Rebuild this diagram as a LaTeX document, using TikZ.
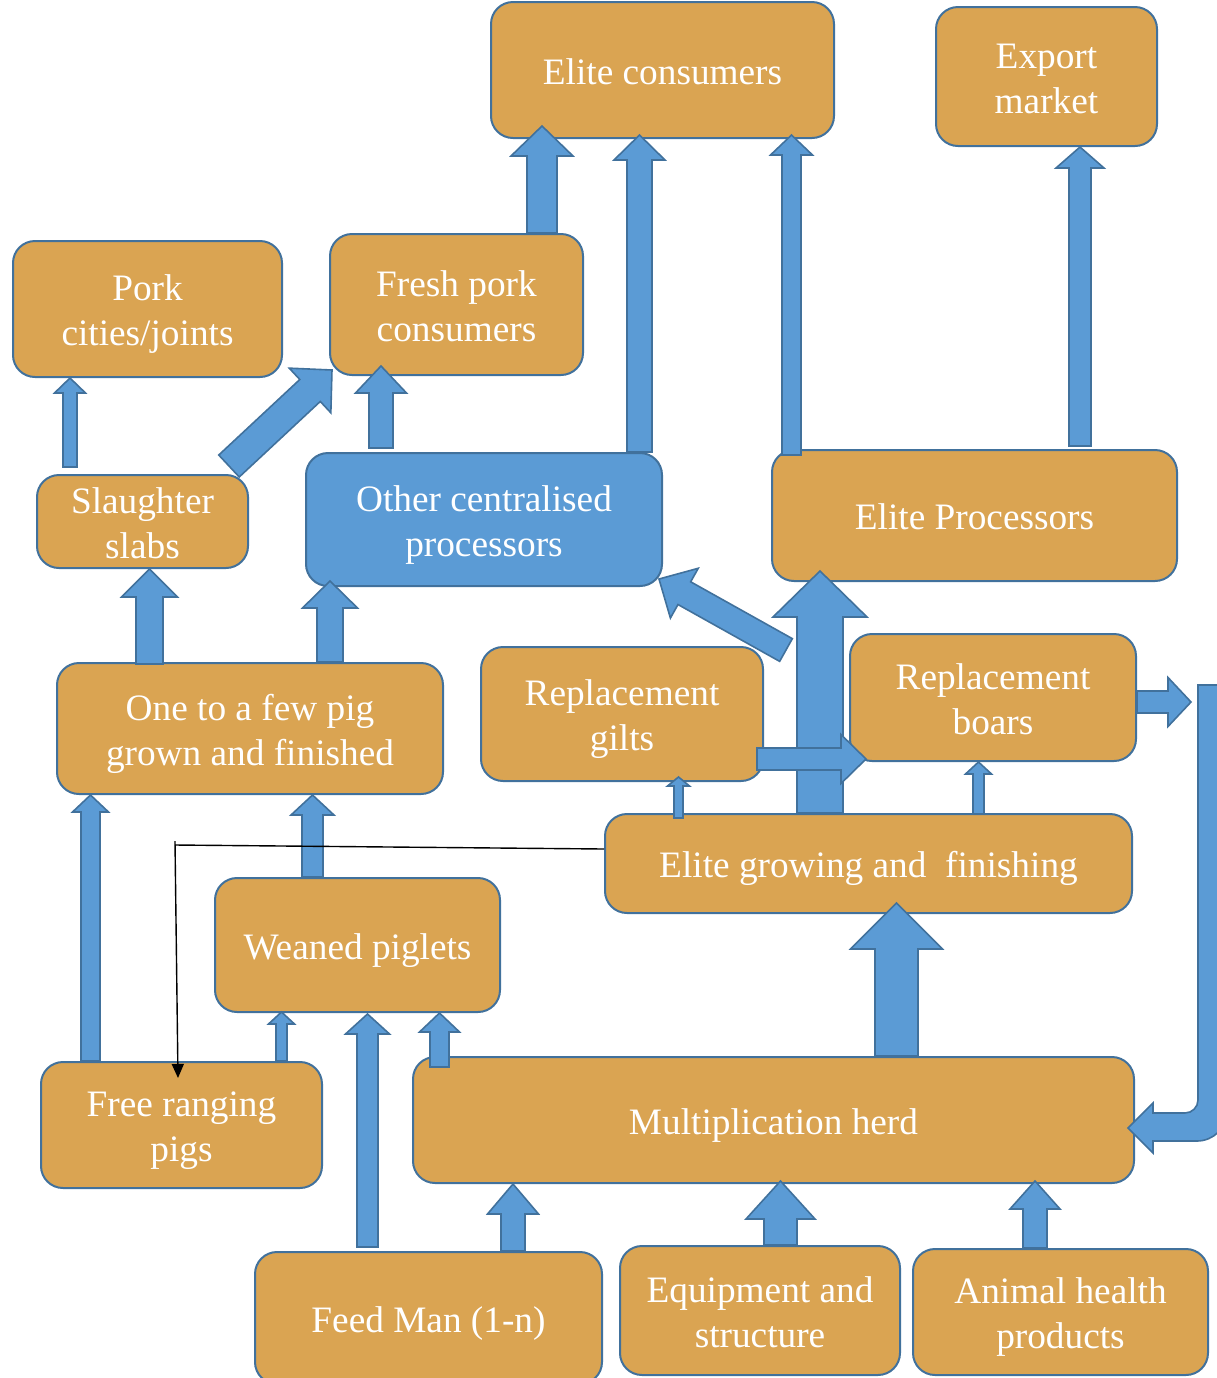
\documentclass[tikz,border=0pt]{standalone}
\usepackage{fontspec}
\setmainfont{Liberation Serif}
\usetikzlibrary{calc,arrows.meta}
\definecolor{boxfill}{RGB}{218,164,82}
\definecolor{edgeblue}{RGB}{65,113,156}
\definecolor{arrblue}{RGB}{91,155,213}
\newcommand{\tstrut}{\rule{0pt}{18.5pt}}
\tikzset{
  box/.style={draw=edgeblue, line width=1pt, fill=boxfill, rounded corners=11pt,
    inner sep=0pt, align=center, text=white,
    font=\fontsize{18.65pt}{22.5pt}\selectfont,
    execute at begin node={\rule{0pt}{18.5pt}},
    execute at end node={\rule[-4.2pt]{0pt}{0pt}}},
  bluebox/.style={box, fill=arrblue},
  barrowstyle/.style={draw=edgeblue, fill=arrblue, line width=0.8pt, line join=miter},
  link/.style={draw=black, line width=0.7pt}
}
% block arrow: #1 base, #2 tip, #3 shaft width, #4 head width, #5 head length (px)
\newcommand{\barrow}[5]{%
  \path[barrowstyle] let \p1=(#1), \p2=(#2),
    \n1={veclen(\x2-\x1,\y2-\y1)},
    \n2={(\x2-\x1)/\n1}, \n3={(\y2-\y1)/\n1},
    \n4={#3*0.25}, \n5={#4*0.25}, \n6={#5*0.5}
  in ({\x1-(\n3)*\n4*1pt},{\y1+(\n2)*\n4*1pt})
  -- ({\x2-(\n2)*\n6*1pt-(\n3)*\n4*1pt},{\y2-(\n3)*\n6*1pt+(\n2)*\n4*1pt})
  -- ({\x2-(\n2)*\n6*1pt-(\n3)*\n5*1pt},{\y2-(\n3)*\n6*1pt+(\n2)*\n5*1pt})
  -- (\p2)
  -- ({\x2-(\n2)*\n6*1pt+(\n3)*\n5*1pt},{\y2-(\n3)*\n6*1pt-(\n2)*\n5*1pt})
  -- ({\x2-(\n2)*\n6*1pt+(\n3)*\n4*1pt},{\y2-(\n3)*\n6*1pt-(\n2)*\n4*1pt})
  -- ({\x1+(\n3)*\n4*1pt},{\y1-(\n2)*\n4*1pt}) -- cycle;}
\begin{document}
\begin{tikzpicture}[x=0.5pt,y=-0.5pt]
\useasboundingbox (0,0) rectangle (1217,1378);
\clip (0,0) rectangle (1217,1378);
% boxes
\node[box, minimum width=171.5pt, minimum height=68pt] (ec) at (662.5,70) {Elite consumers};
\node[box, minimum width=110.5pt, minimum height=69.5pt] (em) at (1046.5,76.5) {\tstrut Export\\market};
\node[box, minimum width=134.5pt, minimum height=68pt] (pork) at (147.5,309) {\tstrut Pork\\cities/joints};
\node[box, minimum width=126.5pt, minimum height=70.5pt] (fresh) at (456.5,304.5) {\tstrut Fresh pork\\consumers};
\node[box, minimum width=105.5pt, minimum height=46.5pt] (slab) at (142.5,521.5) {\tstrut Slaughter\\slabs};
\node[bluebox, minimum width=178pt, minimum height=66.5pt] (ocp) at (484,519.5) {\tstrut Other centralised\\processors};
\node[box, minimum width=202.5pt, minimum height=65.5pt] (ep) at (974.5,515.5) {Elite Processors};
\node[box, minimum width=193pt, minimum height=65.5pt] (one) at (250,728.5) {\tstrut One to a few pig\\grown and finished};
\node[box, minimum width=141pt, minimum height=67pt] (gilts) at (622,714) {\tstrut Replacement\\gilts};
\node[box, minimum width=143pt, minimum height=63.5pt] (boars) at (993,697.5) {\tstrut Replacement\\boars};
\node[box, minimum width=263.5pt, minimum height=49.5pt] (egf) at (868.5,863.5) {Elite growing and\ \ finishing};
\node[box, minimum width=142.5pt, minimum height=67pt] (wean) at (357.5,945) {Weaned piglets};
\node[box, minimum width=140.5pt, minimum height=63pt] (free) at (181.5,1125) {\tstrut Free ranging\\pigs};
\node[box, minimum width=360.5pt, minimum height=63pt] (mult) at (773.5,1120) {Multiplication herd};
\node[box, minimum width=173.5pt, minimum height=66pt] (feed) at (428.5,1318) {Feed Man (1-n)};
\node[box, minimum width=140pt, minimum height=64.5pt] (equip) at (760,1310.5) {\tstrut Equipment and\\structure};
\node[box, minimum width=147.5pt, minimum height=63pt] (animal) at (1060.5,1312) {\tstrut Animal health\\products};
% block arrows
\barrow{fresh.north -| 542,0}{$(ec.south -| 542,0)+(0,-13)$}{30}{62}{30}
\barrow{ocp.north -| 639.5,0}{$(ec.south -| 639.5,0)+(0,-4)$}{25}{51}{25}
\barrow{$(ep.north -| 791.5,0)+(0,6)$}{$(ec.south -| 791.5,0)+(0,-4)$}{19}{42}{20}
\barrow{$(ep.north -| 1080,0)+(0,-3)$}{em.south -| 1080,0}{22}{48}{21}
\barrow{$(slab.north -| 70,0)+(0,-7)$}{pork.south -| 70,0}{14}{31}{15}
\barrow{$(slab.north east)+(-20,-8)$}{$(fresh.south west)+(3,-6)$}{30}{61}{30}
\barrow{$(ocp.north -| 381,0)+(0,-4)$}{$(fresh.south -| 381,0)+(0,-10)$}{24}{51}{27}
\barrow{$(one.north -| 149.5,0)+(0,2)$}{slab.south -| 149.5,0}{27}{56}{28}
\barrow{one.north -| 330,0}{$(ocp.south -| 330,0)+(0,-6)$}{26}{55}{27}
\barrow{egf.north -| 820,0}{$(ep.south -| 820,0)+(0,-11)$}{46}{94}{46}
\barrow{$(boars.north west)+(-63,17)$}{$(ocp.south east)+(-4,-8)$}{26}{57}{29}
\barrow{$(gilts.south east)+(-7,-23)$}{$(boars.south west)+(17,-3)$}{22}{49}{25}
\barrow{$(egf.north -| 678.5,0)+(0,5)$}{$(gilts.south -| 678.5,0)+(0,-5)$}{9}{22}{9}
\barrow{$(egf.north -| 978.5,0)+(0,1)$}{boars.south -| 978.5,0}{11}{26}{12}
\barrow{$(boars.east)+(0,4.5)$}{$(boars.east)+(54,4.5)$}{22}{49}{23}
\barrow{free.north -| 90.5,0}{one.south -| 90.5,0}{19}{36}{17}
\barrow{wean.north -| 312.5,0}{one.south -| 312.5,0}{21}{43}{20}
\barrow{free.north -| 281.5,0}{$(wean.south -| 281.5,0)+(0,-1)$}{11}{26}{12}
\barrow{$(feed.north -| 367.5,0)+(0,-4)$}{$(wean.south -| 367.5,0)+(0,1)$}{21}{44}{20}
\barrow{$(mult.north -| 439.5,0)+(0,11)$}{wean.south -| 439.5,0}{19}{40}{19}
\barrow{mult.north -| 896.5,0}{$(egf.south -| 896.5,0)+(0,-11)$}{43}{92}{46}
\barrow{feed.north -| 513,0}{mult.south -| 513,0}{24}{51}{30}
\barrow{equip.north -| 780.5,0}{$(mult.south -| 780.5,0)+(0,-3)$}{33}{69}{38}
\barrow{animal.north -| 1035,0}{$(mult.south -| 1035,0)+(0,-3)$}{24}{50}{28}
% curved return arrow into the multiplication herd
\path[barrowstyle] (1198,685) -- (1227,685) -- (1227,1111)
  .. controls (1227,1127.6) and (1213.6,1141) .. (1197,1141)
  -- (1153,1141) -- (1153,1153) -- (1128,1128) -- (1153,1103) -- (1153,1113)
  -- (1185,1113) .. controls (1192.2,1113) and (1198,1107.2) .. (1198,1100) -- cycle;
% thin black link
\coordinate (bend) at (175,845);
\draw[link] ($(egf.west)+(0,-14.5)$) -- (bend);
\draw[link, -{Triangle[length=7pt,width=6pt]}] ($(bend)+(0,-4)$) -- ($(free.north -| 178,0)+(0,17)$);
\end{tikzpicture}
\end{document}
